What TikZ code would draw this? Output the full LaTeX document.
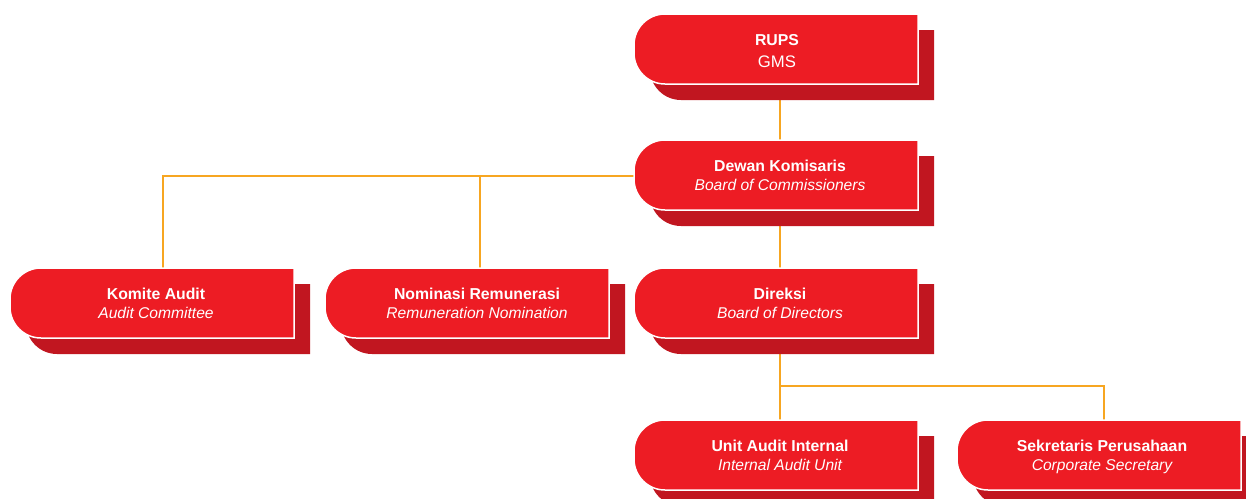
\documentclass[tikz,border=0pt]{standalone}
\usepackage{fontspec}
\setmainfont{Liberation Sans}
\usetikzlibrary{backgrounds}
\pgfdeclarelayer{conn}
\pgfsetlayers{conn,background,main}
\definecolor{boxred}{RGB}{237,28,36}
\definecolor{shadowred}{RGB}{193,22,32}
\definecolor{linkorange}{RGB}{247,166,33}
\tikzset{
  boxnode/.style={rectangle, draw=none, inner sep=0pt, minimum width=284pt, minimum height=70pt},
  titletext/.style={text=white, font=\fontsize{15.8}{18}\selectfont\bfseries, inner sep=0pt, anchor=base},
  subtext/.style={text=white, font=\fontsize{15.6}{18}\selectfont\itshape, inner sep=0pt, anchor=base},
  bigtext/.style={text=white, font=\fontsize{16.7}{20}\selectfont, inner sep=0pt, anchor=base},
  boxfill/.style={fill=boxred, draw=white, line width=1.5pt},
  shadowfill/.style={fill=shadowred},
  link/.style={draw=linkorange, line width=2pt},
}
% #1 name, #2 left, #3 top (pixels, y down), #4 text centre x, #5 line 1, #6 line 2, #7 second line style, #8 second baseline offset
\newcommand\orgbox[8]{%
  \node[boxnode] (#1) at (#2+142,-#3-35) {};
  \node[titletext] (#1-a) at (#4,-#3-31) {#5};
  \node[#7] (#1-b) at (#4,-#3-#8) {#6};
  \begin{pgfonlayer}{background}
    \path[shadowfill] (#2+300,-#3-16) -- (#2+47,-#3-16)
      arc[start angle=90,end angle=180,radius=31] -- (#2+16,-#3-55)
      arc[start angle=180,end angle=270,radius=31] -- (#2+300,-#3-86) -- cycle;
    \path[boxfill] (#2+284,-#3) -- (#2+31,-#3)
      arc[start angle=90,end angle=180,radius=31] -- (#2,-#3-39)
      arc[start angle=180,end angle=270,radius=31] -- (#2+284,-#3-70) -- cycle;
  \end{pgfonlayer}
}
\begin{document}
\begin{tikzpicture}[x=1pt,y=1pt]
\useasboundingbox (0,0) rectangle (1246,-498);
\orgbox{rups}{634}{14}{777}{RUPS}{GMS}{bigtext}{53}
\orgbox{dewan}{634}{140}{780}{Dewan Komisaris}{Board of Commissioners}{subtext}{50}
\orgbox{komite}{10}{268}{156}{Komite Audit}{Audit Committee}{subtext}{50}
\orgbox{nominasi}{325}{268}{477}{Nominasi Remunerasi}{Remuneration Nomination}{subtext}{50}
\orgbox{direksi}{634}{268}{780}{Direksi}{Board of Directors}{subtext}{50}
\orgbox{unit}{634}{420}{780}{Unit Audit Internal}{Internal Audit Unit}{subtext}{50}
\orgbox{sekretaris}{957}{420}{1102}{Sekretaris Perusahaan}{Corporate Secretary}{subtext}{50}
\coordinate (jk) at (163,-176);
\coordinate (jn) at (480,-176);
\coordinate (jd) at (780,-386);
\coordinate (js) at (1104,-386);
\begin{pgfonlayer}{conn}
  \draw[link] (dewan-a |- rups.south) -- (dewan-a |- dewan.north);
  \draw[link] (dewan.west |- jk) -- (jk) -- (jk |- komite.north);
  \draw[link] (jn) -- (jn |- nominasi.north);
  \draw[link] (dewan-a |- dewan.south) -- (dewan-a |- direksi.north);
  \draw[link] (jd |- direksi.south) -- (jd |- unit.north);
  \draw[link] (jd) -- (js) -- (js |- sekretaris.north);
\end{pgfonlayer}
\end{tikzpicture}
\end{document}
